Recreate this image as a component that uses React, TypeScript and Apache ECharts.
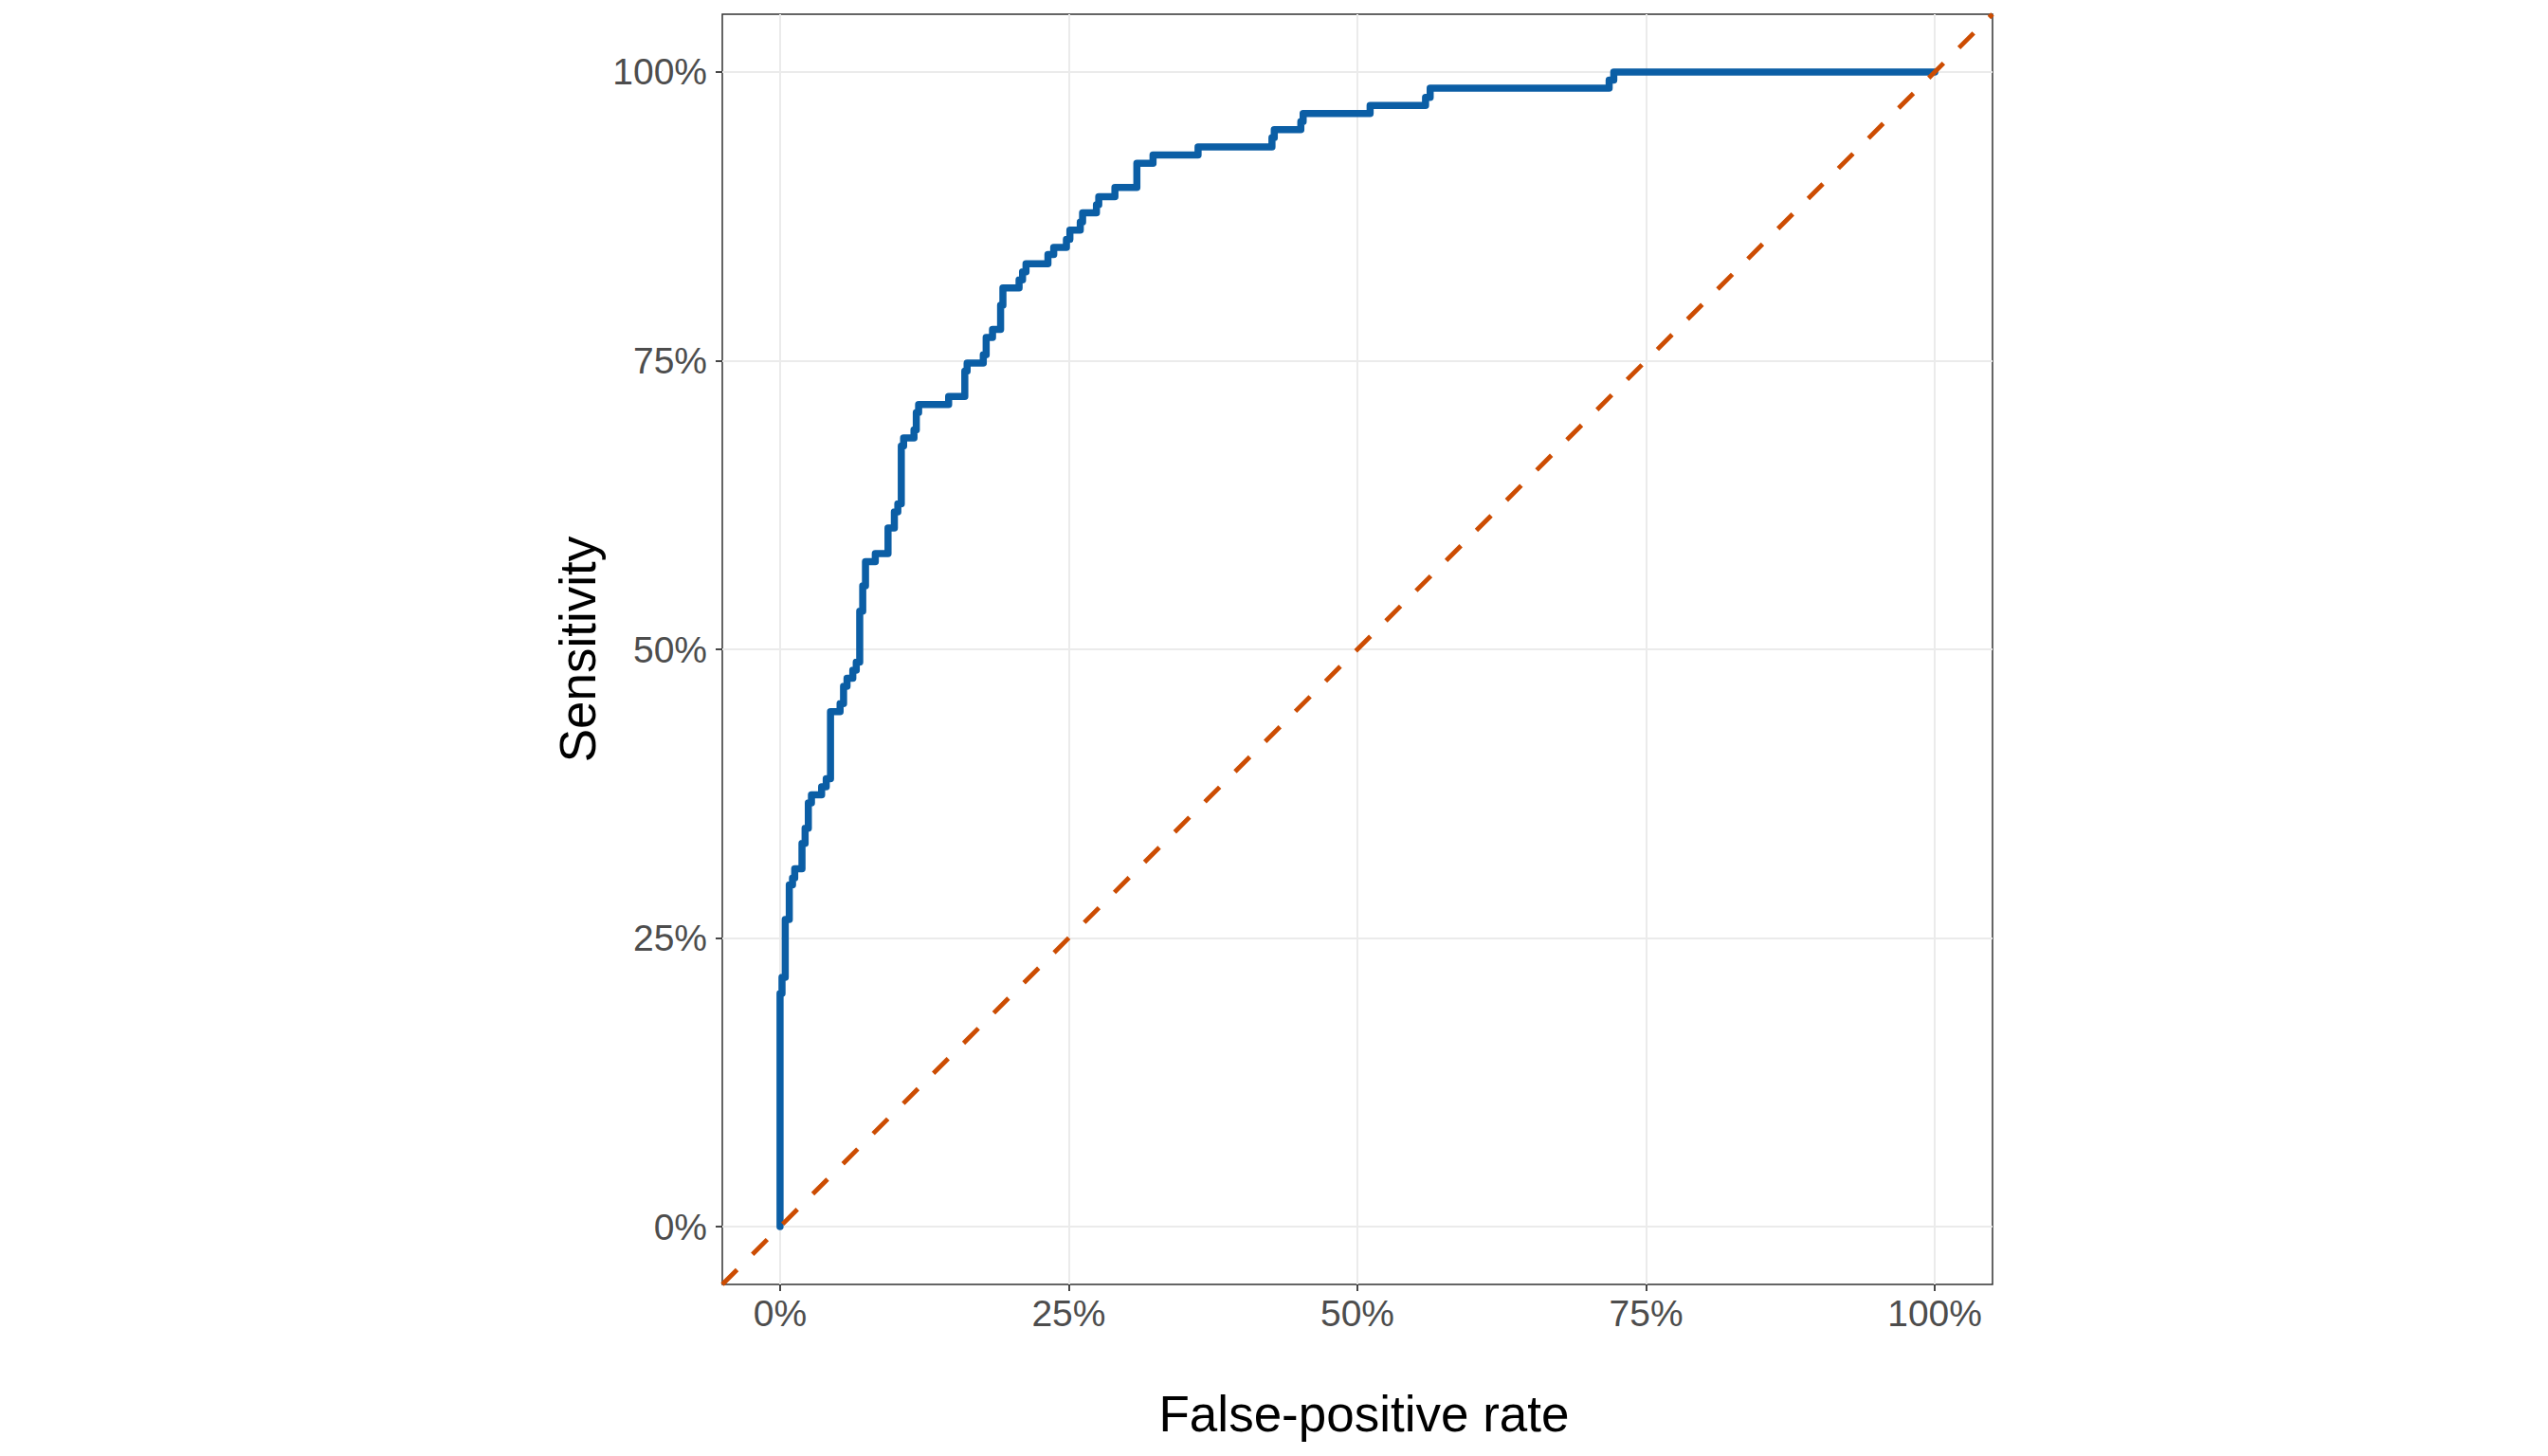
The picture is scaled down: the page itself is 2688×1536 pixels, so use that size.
import React, { useEffect, useRef } from "react";
import * as echarts from "echarts";

// ROC step points: false-positive rate (%) and sensitivity (%) reached at that rate
const fprSteps = [
  0, 0, 0.17, 0.45, 0.8, 1.08, 1.27, 1.9, 2.17, 2.45, 2.72, 3.6, 4.0, 4.37, 5.2, 5.5,
  5.8, 6.3, 6.6, 6.9, 7.16, 7.4, 8.25, 9.35, 9.9, 10.2, 10.5, 10.7, 11.6, 11.8, 12.0,
  14.6, 16.0, 16.2, 17.6, 17.85, 18.4, 19.1, 19.3, 20.7, 21.0, 21.3, 23.2, 23.7, 24.8,
  25.1, 26.0, 26.2, 27.4, 27.6, 29.0, 30.9, 32.3, 36.2, 42.6, 42.8, 45.1, 45.3, 51.1,
  55.9, 56.3, 71.8, 72.2, 100,
];
const tprSteps = [
  0, 20.2, 21.6, 26.6, 29.6, 30.2, 31.0, 33.2, 34.5, 36.7, 37.4, 38.1, 38.8, 44.6, 45.3,
  46.8, 47.5, 48.2, 48.9, 53.3, 55.5, 57.6, 58.3, 60.5, 61.9, 62.6, 67.6, 68.3, 69.0,
  70.5, 71.2, 71.9, 74.1, 74.8, 75.5, 77.0, 77.7, 79.8, 81.3, 82.0, 82.7, 83.4, 84.2,
  84.8, 85.5, 86.3, 87.0, 87.8, 88.5, 89.2, 90.0, 92.1, 92.8, 93.5, 94.3, 95.0, 95.7,
  96.4, 97.1, 97.8, 98.6, 99.3, 100, 100,
];

// Reference (chance) line endpoints
const chanceX = [-5, 105];
const chanceY = [-5, 105];

// Axis breaks
const xTicks = [0, 25, 50, 75, 100];
const yTicks = [0, 25, 50, 75, 100];

const xTitle = "False-positive rate";
const yTitle = "Sensitivity";

export default function App() {
  const ref = useRef<HTMLDivElement>(null);

  useEffect(() => {
    document.body.style.margin = "0";
    document.body.style.overflow = "hidden";
    if (!ref.current) return;
    const chart = echarts.init(ref.current, undefined, { renderer: "svg" });

    const rocData: number[][] = [[fprSteps[0], tprSteps[0]]];
    for (let i = 1; i < fprSteps.length; i++) {
      rocData.push([fprSteps[i], tprSteps[i - 1]]);
      rocData.push([fprSteps[i], tprSteps[i]]);
    }
    const chanceData = chanceX.map((x, i) => [x, chanceY[i]]);

    const font = "'Liberation Sans', Arial, Helvetica, sans-serif";
    const commonAxis = {
      type: "value" as const,
      min: -5,
      max: 105,
      axisLine: { show: false, onZero: false },
      axisTick: {
        show: true,
        inside: false,
        length: 7,
        lineStyle: { color: "#333333", width: 1.8 },
      },
      axisLabel: {
        color: "#4D4D4D",
        fontSize: 39,
        fontFamily: font,
        formatter: (v: number) => `${v}%`,
      },
      splitLine: { show: true, lineStyle: { color: "#EBEBEB", width: 2 } },
      minorSplitLine: { show: false },
      nameLocation: "middle" as const,
    };

    chart.setOption({
      animation: false,
      backgroundColor: "#ffffff",
      grid: {
        left: 762,
        top: 15,
        width: 1340,
        height: 1340,
        show: true,
        borderColor: "#333333",
        borderWidth: 1.5,
        backgroundColor: "#ffffff",
      },
      xAxis: {
        ...commonAxis,
        name: xTitle,
        nameGap: 110,
        nameTextStyle: {
          color: "#000000",
          fontSize: 53,
          fontFamily: font,
          padding: [0, 0, 0, 14],
        },
        axisTick: { ...commonAxis.axisTick, customValues: xTicks },
        axisLabel: { ...commonAxis.axisLabel, margin: 11, customValues: xTicks },
      },
      yAxis: {
        ...commonAxis,
        name: yTitle,
        nameGap: 126,
        nameRotate: 90,
        nameTextStyle: { color: "#000000", fontSize: 53, fontFamily: font },
        axisTick: { ...commonAxis.axisTick, customValues: yTicks },
        axisLabel: { ...commonAxis.axisLabel, margin: 16, customValues: yTicks },
      },
      series: [
        {
          type: "line",
          data: rocData,
          symbol: "none",
          clip: true,
          z: 3,
          lineStyle: { color: "#0B5EA5", width: 7.5, join: "round", cap: "round" },
        },
        {
          type: "line",
          data: chanceData,
          symbol: "none",
          clip: true,
          z: 4,
          lineStyle: { color: "#CC4C02", width: 4.8, type: [22, 23], cap: "butt" },
        },
      ],
    });

    return () => chart.dispose();
  }, []);

  return <div ref={ref} style={{ width: 2688, height: 1536 }} />;
}
